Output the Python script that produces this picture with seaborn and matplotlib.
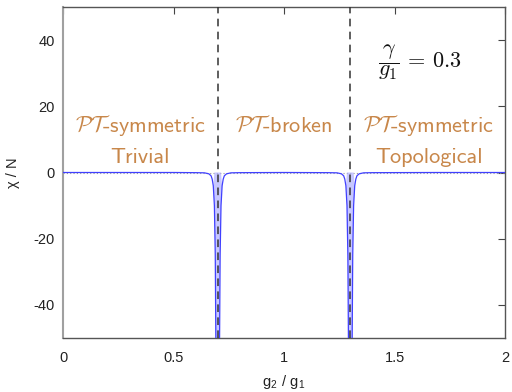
import os
import matplotlib
matplotlib.use("Agg")
import matplotlib.pyplot as plt
from matplotlib.font_manager import FontProperties
import seaborn as sns
import pandas as pd

# data
g_ratio = [0.0, 0.3, 0.5, 0.6, 0.64, 0.66, 0.67, 0.675, 0.68, 0.685, 0.689, 0.692, 0.696,
           0.7, 0.704, 0.708, 0.711, 0.715, 0.72, 0.725, 0.73, 0.74, 0.76, 0.8, 1.0,
           1.2, 1.24, 1.26, 1.27, 1.275, 1.28, 1.285, 1.289, 1.292, 1.296,
           1.3, 1.304, 1.308, 1.311, 1.315, 1.32, 1.325, 1.33, 1.34, 1.36, 1.4, 1.7, 2.0]
chi_over_n = [0.0, 0.0, 0.0, -0.05, -0.1, -0.4, -1.0, -2.0, -4.0, -10.0, -25.0, -55.0, -60.0,
              -60.0, -60.0, -55.0, -25.0, -10.0, -4.0, -2.0, -1.0, -0.4, -0.1, -0.05, 0.0,
              -0.05, -0.1, -0.4, -1.0, -2.0, -4.0, -10.0, -25.0, -55.0, -60.0,
              -60.0, -60.0, -55.0, -25.0, -10.0, -4.0, -2.0, -1.0, -0.4, -0.1, -0.05, 0.0, 0.0]
transitions = [0.7, 1.3]
x_ticks = [0, 0.5, 1, 1.5, 2]
x_tick_labels = ["0", "0.5", "1", "1.5", "2"]
y_ticks = [-40, -20, 0, 20, 40]
y_tick_labels = ["-40", "-20", "0", "20", "40"]
phase_titles = [r"$\mathcal{PT}$-symmetric", r"$\mathcal{PT}$-broken", r"$\mathcal{PT}$-symmetric"]
phase_subtitles = ["Trivial", "", "Topological"]
phase_centers = [0.35, 1.0, 1.655]
gamma_label = r"$\dfrac{\gamma}{g_1}\,=\,0.3$"

sns.set_theme(style="white")
plt.rcParams["font.family"] = ["Liberation Sans", "DejaVu Sans"]
plt.rcParams["mathtext.fontset"] = "cm"

cmss_path = os.path.join(matplotlib.get_data_path(), "fonts", "ttf", "cmss10.ttf")
sans_cm = FontProperties(fname=cmss_path, size=16) if os.path.exists(cmss_path) else FontProperties(family="Lato", size=16)

df = pd.DataFrame({"g": g_ratio, "chi": chi_over_n})

fig = plt.figure(figsize=(5.12, 3.92), dpi=100)
ax = fig.add_axes([63 / 512, 1 - 338 / 392, (505 - 63) / 512, (338 - 7) / 392])

ax.axhline(0, color="#999999", lw=0.8, ls=(0, (1, 2)), zorder=1)
ax.fill_between(df["g"], df["chi"], 0, where=df["chi"] < -8, color="#b0b0ff", alpha=0.7,
                lw=0, zorder=2, interpolate=True)
sns.lineplot(data=df, x="g", y="chi", ax=ax, color="#4040ff", lw=0.9, zorder=3,
             estimator=None, sort=False)
for t in transitions:
    ax.axvline(t, color="#333333", lw=1.1, ls=(0, (5, 3.5)), zorder=4)

ax.set_xlim(0, 2)
ax.set_ylim(-50, 50)
ax.set_xticks(x_ticks)
ax.set_xticklabels(x_tick_labels)
ax.set_yticks(y_ticks)
ax.set_yticklabels(y_tick_labels)
ax.tick_params(direction="in", length=5, width=0.8, color="#444444", labelsize=10.5,
               labelcolor="#222222", top=True, right=True, pad=9)
ax.tick_params(axis="y", pad=6)
for side in ["top", "right", "bottom"]:
    ax.spines[side].set_color("#555555")
    ax.spines[side].set_linewidth(1.0)
ax.spines["left"].set_color("#a0a0a0")
ax.spines["left"].set_linewidth(1.5)

ax.set_xlabel(r"g$_\mathregular{2}$ / g$_\mathregular{1}$", fontsize=10.5, color="#222222", labelpad=6)
ax.set_ylabel(r"χ / N", fontsize=10.5, color="#222222", labelpad=10)

brown = "#c8874a"
for xc, title, sub in zip(phase_centers, phase_titles, phase_subtitles):
    ax.text(xc, 14.2, title, ha="center", va="center", fontproperties=sans_cm, color=brown)
    if sub:
        ax.text(xc, 4.6, sub, ha="center", va="center", fontproperties=sans_cm, color=brown)
ax.text(1.425, 33.5, gamma_label, ha="left", va="center", fontsize=16, color="#111111")

fig.savefig("out.png", dpi=100)
